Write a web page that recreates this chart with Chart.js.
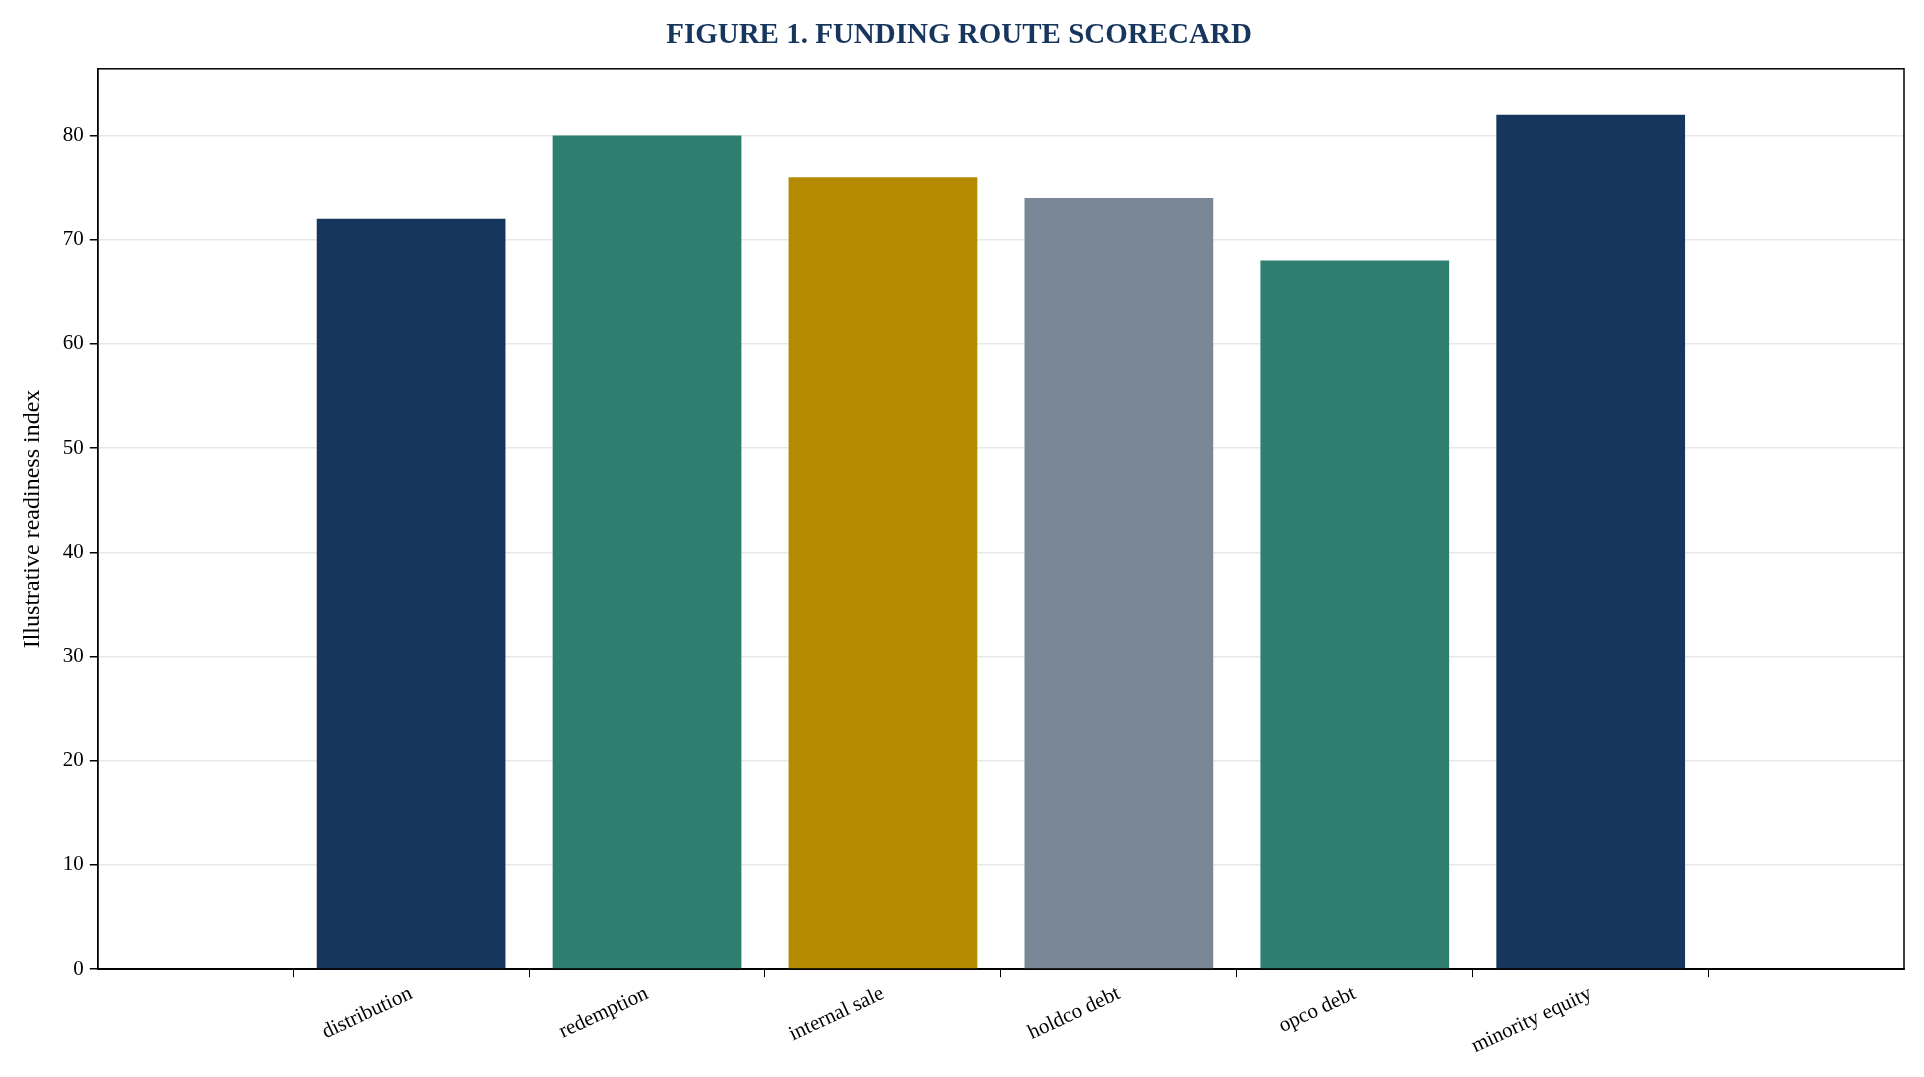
<!DOCTYPE html>
<html><head><meta charset="utf-8">
<script src="https://cdn.jsdelivr.net/npm/chart.js@4"></script>
<style>html,body{margin:0;background:#fff}#wrap{width:1924px;height:1077px}</style>
</head><body><div id="wrap"><canvas id="c"></canvas></div>
<script>
var categories = ['distribution', 'redemption', 'internal sale', 'holdco debt', 'opco debt', 'minority equity'];
var scores = [72, 80, 76, 74, 68, 82];
var barColors = ['#17365d', '#2e7f6f', '#b38a00', '#7a8796', '#2e7f6f', '#17365d'];

// frame around the plot area
var frame = {
    id: 'frame',
    afterDraw: function (chart) {
        var a = chart.chartArea, ctx = chart.ctx;
        ctx.save();
        ctx.strokeStyle = '#000';
        ctx.lineWidth = 1.5;
        ctx.strokeRect(a.left, a.top, a.right - a.left, a.bottom - a.top);
        ctx.restore();
    }
};

Chart.defaults.font.family = '"Liberation Serif", "DejaVu Serif", serif';
Chart.defaults.color = '#000';

new Chart(document.getElementById('c'), {
    type: 'bar',
    data: {
        datasets: [{
            data: scores.map(function (v, i) { return { x: i, y: v }; }),
            backgroundColor: barColors, barPercentage: 0.8, categoryPercentage: 1
        }]
    },
    options: {
        responsive: true,
        maintainAspectRatio: false,
        animation: false,
        layout: { padding: { left: 14, right: 20, top: 4, bottom: 14 } },
        plugins: {
            legend: { display: false },
            tooltip: { enabled: false },
            title: {
                display: true,
                text: 'FIGURE 1. FUNDING ROUTE SCORECARD',
                color: '#17365d',
                font: { size: 29, weight: 'bold' },
                padding: { top: 14, bottom: 16 }
            }
        },
        scales: {
            x: {
                type: 'linear',
                min: -0.69,
                max: 5.69,
                afterBuildTicks: function (s) { s.ticks = categories.map(function (c, i) { return { value: i }; }); },
                grid: { display: true, drawOnChartArea: false, tickLength: 8, color: '#000' },
                border: { color: '#000', width: 1.5 },
                ticks: {
                    font: { size: 21 }, minRotation: 25, maxRotation: 25, padding: 4,
                    callback: function (v) { return categories[v]; }
                }
            },
            y: {
                min: 0,
                max: 86.4,
                afterBuildTicks: function (s) { s.ticks = [0,10,20,30,40,50,60,70,80].map(function (v) { return { value: v }; }); },
                grid: { color: '#e8e8e8', lineWidth: 1.5, tickLength: 8, tickColor: '#000' },
                border: { color: '#000', width: 1.5 },
                ticks: { font: { size: 21 }, padding: 6 },
                title: { display: true, text: 'Illustrative readiness index', font: { size: 24 }, padding: { bottom: 10 } }
            }
        }
    },
    plugins: [frame]
});
</script>
</body></html>
